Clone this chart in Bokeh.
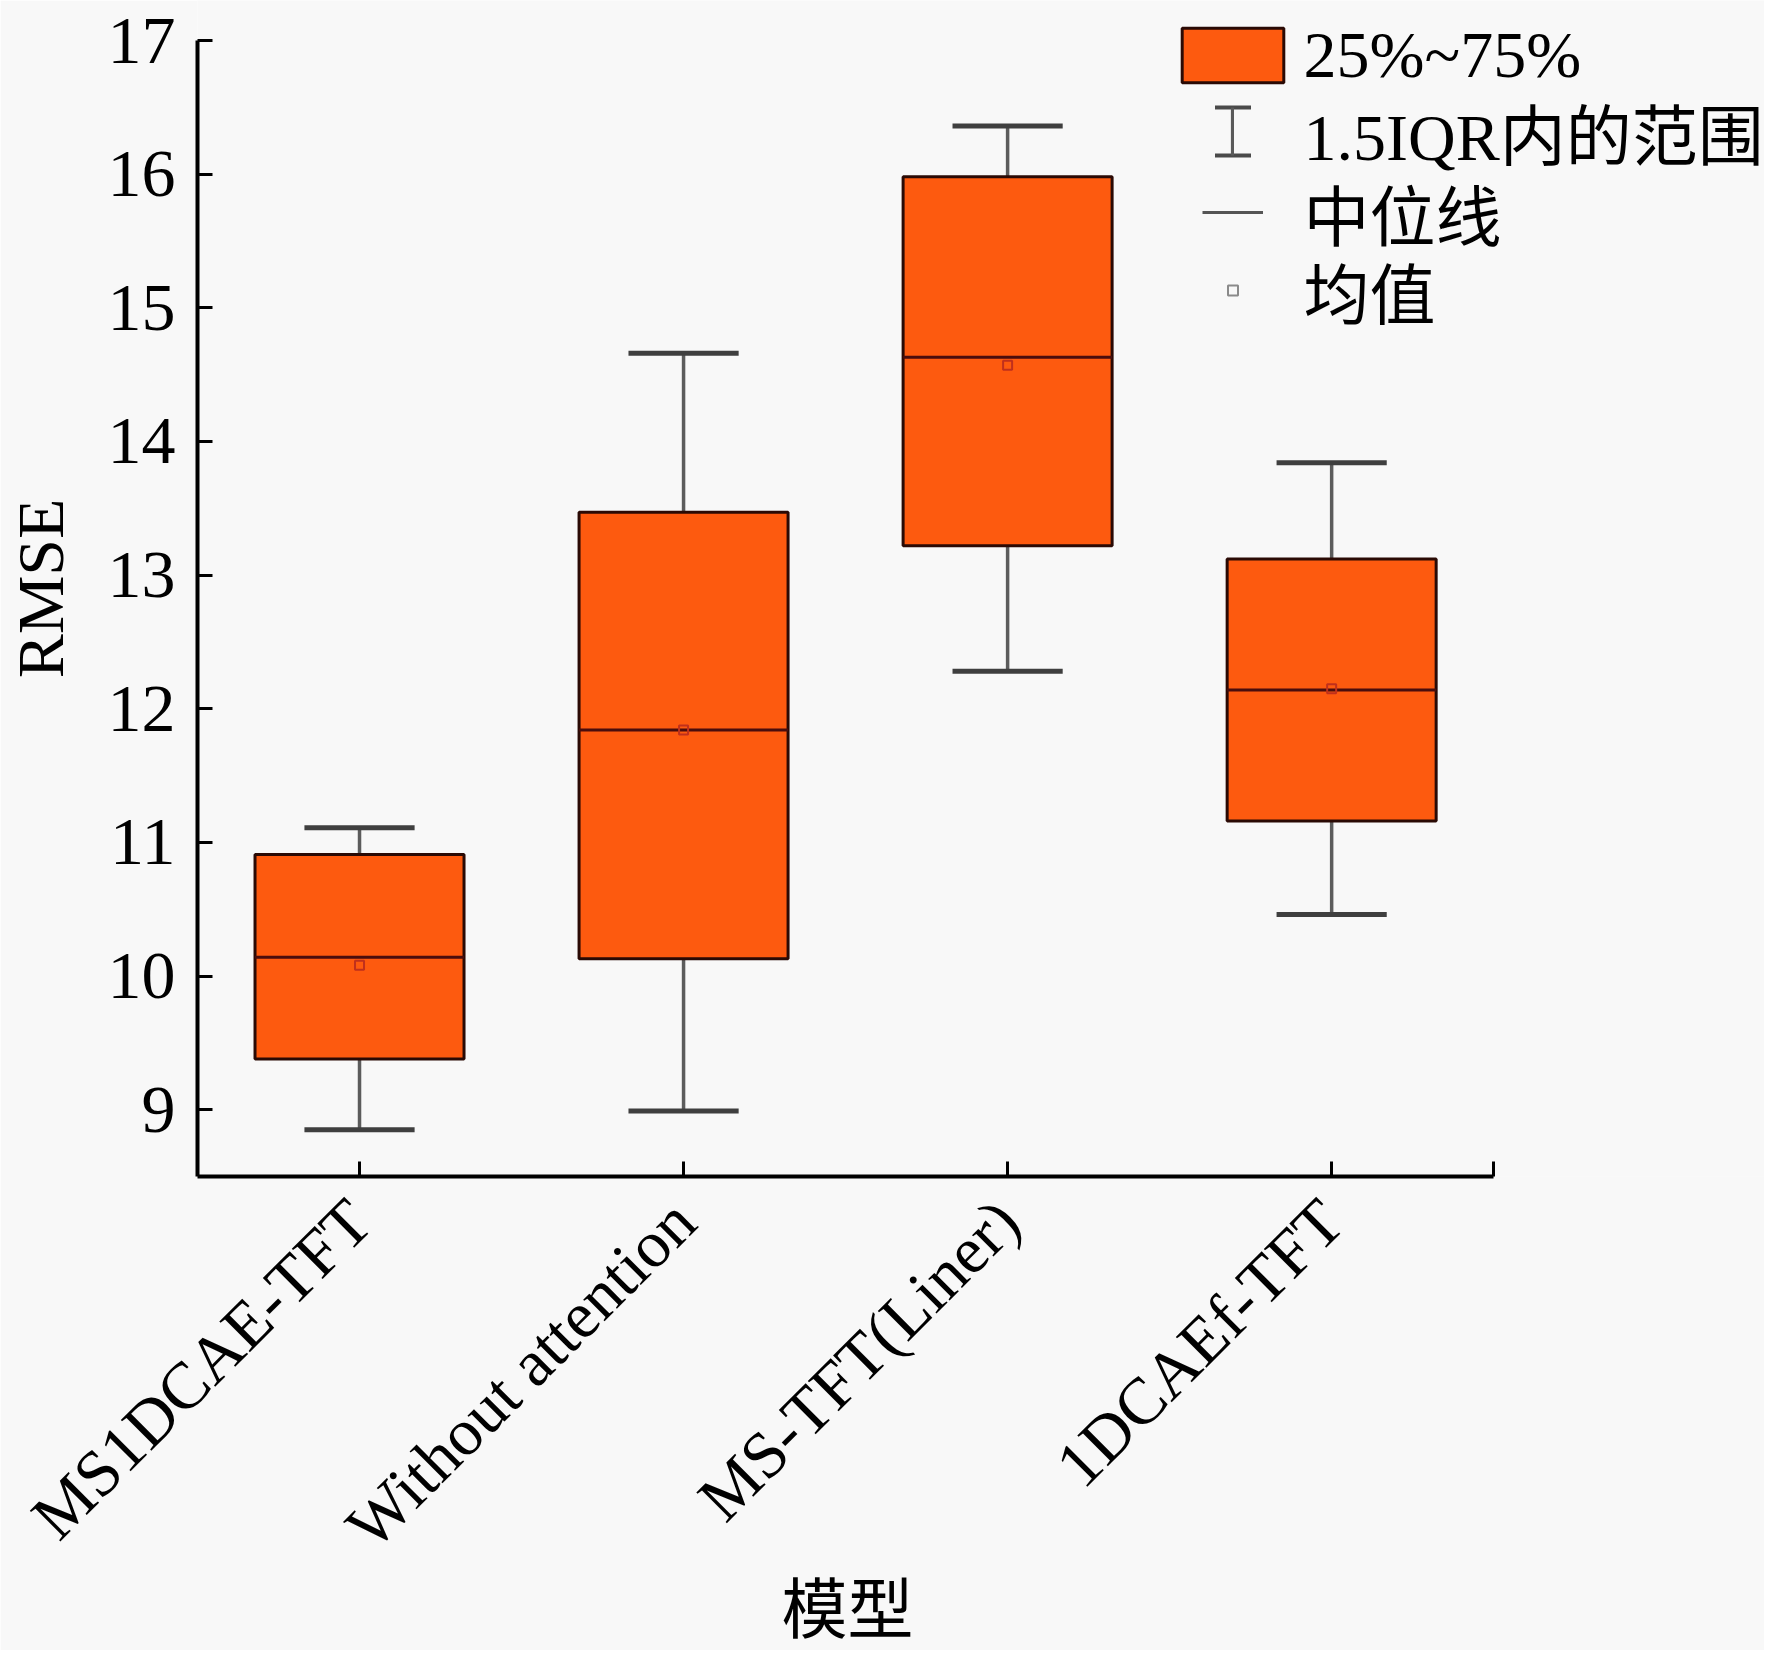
from math import pi
from bokeh.plotting import figure
from bokeh.models import ColumnDataSource, FixedTicker, Legend, LegendItem, Range1d, Title
from bokeh.embed import file_html
from bokeh.resources import INLINE

# ---- data ----
models = ["MS1DCAE-TFT", "Without attention", "MS-TFT(Liner)", "1DCAEf-TFT"]
q1 = [9.38, 10.13, 13.22, 11.16]
median = [10.14, 11.84, 14.63, 12.14]
q3 = [10.91, 13.47, 15.98, 13.12]
lower = [8.85, 8.99, 12.28, 10.46]
upper = [11.11, 14.66, 16.36, 13.84]
mean = [10.08, 11.84, 14.57, 12.15]
y_ticks = [9, 10, 11, 12, 13, 14, 15, 16, 17]
legend_labels = ["25%~75%", "1.5IQR内的范围", "中位线", "均值"]
x_label = "模型"
y_label = "RMSE"

FONT = "'Liberation Serif', 'Noto Sans CJK SC'"
BG = "#f8f8f8"
BOX_W = 0.645
CAP_W = 0.34

xs = list(range(len(models)))
src = ColumnDataSource(dict(
    x=xs,
    left=[x - BOX_W / 2 for x in xs],
    right=[x + BOX_W / 2 for x in xs],
    cap_l=[x - CAP_W / 2 for x in xs],
    cap_r=[x + CAP_W / 2 for x in xs],
    q1=q1, q3=q3, median=median, lower=lower, upper=upper, mean=mean,
))

W, H = 1764, 1650
FL, FT, FB = 196, 0, 1176          # frame edges in canvas px (frame reaches right edge)
AX_RIGHT = 1493                    # where the x axis ends (x = 3.5)
PX_PER_X = (AX_RIGHT - FL) / 4.0
X_END = -0.5 + (W - FL) / PX_PER_X

p = figure(width=W, height=H, output_backend="svg", toolbar_location=None,
           x_range=Range1d(-0.5, X_END), y_range=Range1d(8.5, 17.2994),
           min_border_left=FL, min_border_right=0, min_border_top=FT,
           min_border_bottom=H - FB)
p.background_fill_color = BG
p.border_fill_color = BG
p.outline_line_color = None
p.xgrid.visible = False
p.ygrid.visible = False

# whiskers
p.segment(x0="x", y0="q3", x1="x", y1="upper", source=src, line_color="#5c5c5c", line_width=3.5)
p.segment(x0="x", y0="q1", x1="x", y1="lower", source=src, line_color="#5c5c5c", line_width=3.5)
p.segment(x0="cap_l", y0="upper", x1="cap_r", y1="upper", source=src, line_color="#3f3f3f", line_width=5)
p.segment(x0="cap_l", y0="lower", x1="cap_r", y1="lower", source=src, line_color="#3f3f3f", line_width=5)
# boxes
box_r = p.quad(left="left", right="right", bottom="q1", top="q3", source=src,
               fill_color="#fd5a0f", line_color="#2a0a05", line_width=3)
# median
p.segment(x0="left", y0="median", x1="right", y1="median", source=src,
          line_color="#4a0d0d", line_width=3)
# mean
p.scatter(x="x", y="mean", source=src, marker="square", size=9,
          fill_alpha=0, line_color="#c0301c", line_width=2)

# legend-only renderers (outside the visible range)
cap_r = p.quad(left=[-5], right=[-4.9], bottom=[0], top=[1], fill_alpha=0,
               line_color="#4a4a4a", line_width=4, line_dash="36 48")
stem_r = p.quad(left=[-5], right=[-4.9], bottom=[0], top=[1],
                fill_color="#5a5a5a", line_color=None)
med_r = p.segment(x0=[-5], y0=[0], x1=[-4.9], y1=[0], line_color="#555555", line_width=3)
mean_r = p.scatter(x=[-5], y=[0], marker="square", fill_alpha=0,
                   line_color="#8a8a8a", line_width=2)

CX = 1231 - FL  # legend symbol centre, frame px

def add_leg(label, rend, gw, gh, y, size="66px"):
    leg = Legend(items=[LegendItem(label=label, renderers=[rend])],
                 location=(CX - gw / 2, y), glyph_width=gw, glyph_height=gh,
                 label_standoff=int(72 - gw / 2), padding=0, margin=0, spacing=0,
                 border_line_color=None, background_fill_alpha=0,
                 label_text_font=FONT, label_text_font_size=size,
                 label_text_color="black", label_height=gh)
    p.add_layout(leg, "center")

add_leg(legend_labels[0], box_r, 127, 68, FB - 55 - 38)
add_leg(legend_labels[1], cap_r, 45, 60, FB - 131 - 48)
add_leg(" ", stem_r, 4, 60, FB - 131 - 30, size="8px")
add_leg(legend_labels[2], med_r, 61, 84, FB - 212 - 48)
add_leg(legend_labels[3], mean_r, 25, 84, FB - 290 - 48)

# axes
xax = p.xaxis[0]
xax.ticker = FixedTicker(ticks=xs + [3.5])
overrides = {i: m for i, m in enumerate(models)}
overrides[3.5] = ""
xax.major_label_overrides = overrides
xax.major_label_orientation = pi / 4
xax.bounds = (-0.5, 3.5)

yax = p.yaxis[0]
yax.ticker = FixedTicker(ticks=y_ticks)
yax.bounds = (8.5, 17)
yax.axis_label = y_label

for ax in (xax, yax):
    ax.axis_line_width = 4
    ax.axis_line_color = "black"
    ax.major_tick_in = 15
    ax.major_tick_out = 0
    ax.major_tick_line_width = 3
    ax.major_tick_line_color = "black"
    ax.minor_tick_line_color = None
    ax.major_label_text_font = FONT
    ax.major_label_text_color = "black"
    ax.axis_label_text_font = FONT
    ax.axis_label_text_font_size = "66px"
    ax.axis_label_text_font_style = "normal"
    ax.axis_label_text_color = "black"

xax.major_label_text_font_size = "66px"
yax.major_label_text_font_size = "68px"
xax.major_label_standoff = 34
yax.major_label_standoff = 22
yax.axis_label_standoff = 28

# x-axis title, centred under the axis span (not under the whole frame)
xt = Title(text=x_label, align="left", offset=780 - FL, standoff=-36,
           vertical_align="top", text_font=FONT, text_font_size="66px",
           text_font_style="normal", text_color="black")
p.add_layout(xt, "below")

open("out.html", "w").write(file_html(p, INLINE))
